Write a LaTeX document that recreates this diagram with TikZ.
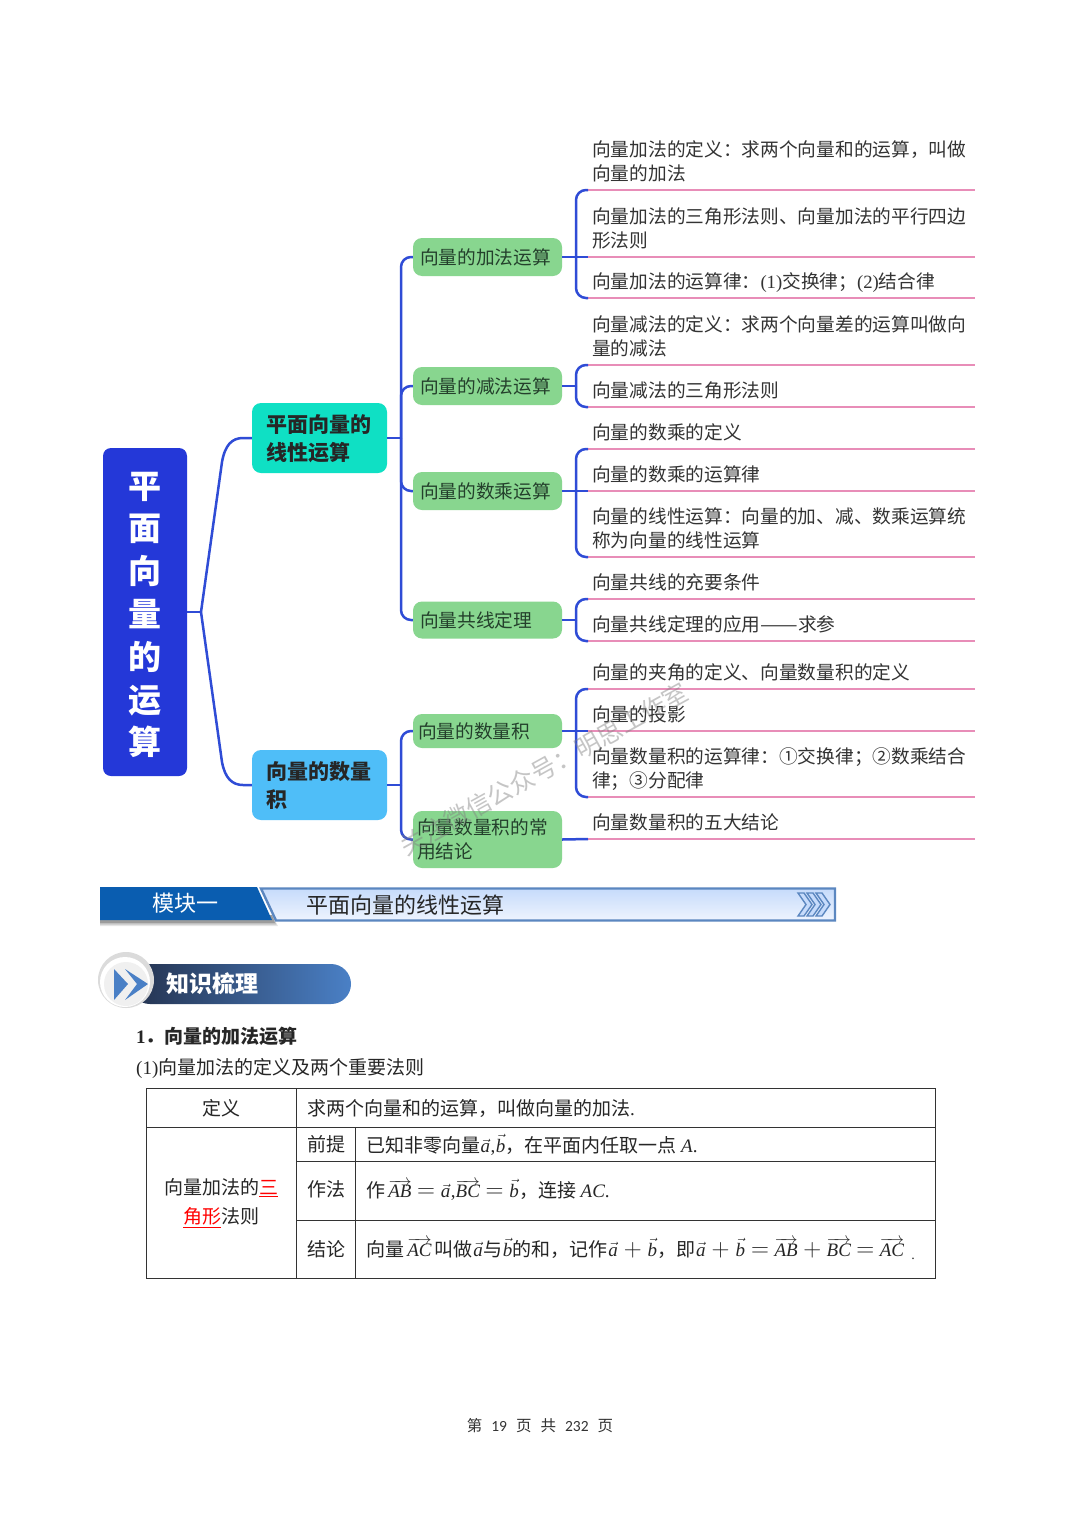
\documentclass[tikz,border=0pt]{standalone}
\usepackage[no-math]{fontspec}
\setmainfont{Noto Sans CJK SC}
\newfontfamily\ser{Liberation Serif}
\newfontfamily\calfnt{Carlito}
\usetikzlibrary{calc}
\definecolor{rootblue}{HTML}{2438D8}
\definecolor{linkblue}{HTML}{2F4CD6}
\definecolor{teal1}{HTML}{0FE0C4}
\definecolor{sky1}{HTML}{4FBEF8}
\definecolor{green1}{HTML}{88D68F}
\definecolor{pink1}{HTML}{E88DB8}
\definecolor{ink}{HTML}{333333}
\definecolor{greenink}{HTML}{24402C}
\definecolor{bandblue}{HTML}{0A5DB0}
\definecolor{bandedge}{HTML}{5B87C0}
\definecolor{bandtop}{HTML}{C6DBFB}
\definecolor{bandlow}{HTML}{EEF4FE}
\definecolor{pilla}{HTML}{24324E}
\definecolor{pillb}{HTML}{4A80C6}
\newcommand{\vv}[1]{$\overrightarrow{\mbox{\ser\itshape #1}}$}
\newcommand{\sv}[1]{\hspace{.5pt}$\vec{\mbox{\ser\itshape #1}}$\hspace{.5pt}}
\newcommand{\itx}[1]{{\ser\itshape #1}}
\newcommand{\opr}[1]{\hspace{5.5pt}{\fontsize{23}{24}\selectfont$#1$}\hspace{5.5pt}}
\tikzset{
  rootbox/.style={draw=none,fill=rootblue,rounded corners=8pt,minimum width=84pt,minimum height=328pt},
  roottext/.style={text=white,align=center,inner sep=0pt,font=\bfseries\fontsize{33}{42.8}\selectfont},
  lonebox/.style={draw=none,rounded corners=9pt,minimum width=135pt,minimum height=70pt},
  lonetext/.style={text width=107pt,inner sep=0pt,align=left,text=black!85,font=\bfseries\fontsize{21}{28}\selectfont},
  greenbox/.style={draw=none,fill=green1,rounded corners=9pt,text width=135pt,inner xsep=7pt,inner ysep=0pt,align=left,text=greenink,font=\fontsize{18.7}{24}\selectfont},
  leafnode/.style={anchor=south west,text width=379pt,inner xsep=4pt,inner ysep=2.2pt,align=left,text=ink,font=\fontsize{18.7}{24}\selectfont,execute at end node=\strut},
  conn/.style={draw=linkblue,line width=2.5pt},
  pinkline/.style={draw=pink1,line width=2.4pt},
  tline/.style={draw=black!80,line width=1pt},
  tcell/.style={inner sep=0pt,text=black!85,font=\fontsize{19}{24}\selectfont},
  tleft/.style={tcell,anchor=west},
}
\begin{document}
\begin{tikzpicture}[x=1pt,y=-1pt]
\useasboundingbox (0,0) rectangle (1080,1528);
\fill[white] (0,0) rectangle (1080,1528);

% --- mind map ---
\node[rootbox] (root) at (145,612) {};
\node[roottext] (roott) at (145,615) {平\\面\\向\\量\\的\\运\\算};
\node[lonebox,fill=teal1] (plane) at (319.5,438) {};
\node[lonetext] (planet) at (319.5,439) {平面向量的\\线性运算};
\node[lonebox,fill=sky1] (dot) at (319.5,785) {};
\node[lonetext] (dott) at (319.5,786) {向量的数量\\积};
\node[greenbox,minimum height=38pt] (add) at (487.5,257) {向量的加法运算};
\node[greenbox,minimum height=38pt] (sub) at (487.5,386) {向量的减法运算};
\node[greenbox,minimum height=38pt] (mul) at (487.5,491) {向量的数乘运算};
\node[greenbox,minimum height=37pt] (col) at (487.5,620) {向量共线定理};
\node[greenbox,minimum height=34pt,inner xsep=5pt,text width=139pt] (dp) at (487.5,731) {向量的数量积};
\node[greenbox,minimum height=57pt,inner xsep=4pt,text width=141pt] (con) at (487.5,839.5) {向量数量积的常\\用结论};

\node[leafnode] (a1) at (588,190) {向量加法的定义：求两个向量和的运算，叫做\\向量的加法};
\node[leafnode] (a2) at (588,257) {向量加法的三角形法则、向量加法的平行四边\\形法则};
\node[leafnode] (a3) at (588,298) {向量加法的运算律：{\ser (1)}交换律；{\ser (2)}结合律};
\node[leafnode] (s1) at (588,365) {向量减法的定义：求两个向量差的运算叫做向\\量的减法};
\node[leafnode] (s2) at (588,407) {向量减法的三角形法则};
\node[leafnode] (m1) at (588,449) {向量的数乘的定义};
\node[leafnode] (m2) at (588,491) {向量的数乘的运算律};
\node[leafnode] (m3) at (588,557) {向量的线性运算：向量的加、减、数乘运算统\\称为向量的线性运算};
\node[leafnode] (c1) at (588,599) {向量共线的充要条件};
\node[leafnode] (c2) at (588,641) {向量共线定理的应用\scalebox{1.2}[1]{——}求参};
\node[leafnode] (d1) at (588,689) {向量的夹角的定义、向量数量积的定义};
\node[leafnode] (d2) at (588,731) {向量的投影};
\node[leafnode] (d3) at (588,797) {向量数量积的运算律：①交换律；②数乘结合\\律；③分配律};
\node[leafnode] (e1) at (588,839) {向量数量积的五大结论};

\foreach \n in {a1,a2,a3,s1,s2,m1,m2,m3,c1,c2,d1,d2,d3,e1}
  \draw[pinkline] (\n.south west) -- (\n.south east);

\coordinate (j0) at (201,612);
\coordinate (j1) at (401,438);
\coordinate (j2) at (401,785);
\coordinate (ja) at (576,257);
\coordinate (js) at (576,386);
\coordinate (jm) at (576,491);
\coordinate (jc) at (576,620);
\coordinate (jd) at (576,731);

\draw[conn] (root.east) -- (j0);
\draw[conn] (j0) -- (222,462) .. controls (225,445) and (232,438) .. (243,438) -- (plane.west);
\draw[conn] (j0) -- (222,762) .. controls (225,778) and (232,785) .. (243,785) -- (dot.west);

\draw[conn] (plane.east) -- (j1);
\draw[conn] (dot.east) -- (j2);
\foreach \t in {add,sub,mul,col} \draw[conn,rounded corners=10pt] (j1) |- (\t.west);
\foreach \t in {dp,con} \draw[conn,rounded corners=10pt] (j2) |- (\t.west);

\draw[conn] (add.east) -- (ja); \draw[conn] (ja) -- (a2.south west);
\draw[conn,rounded corners=10pt] (ja) |- (a1.south west);
\draw[conn,rounded corners=10pt] (ja) |- (a3.south west);
\draw[conn] (sub.east) -- (js);
\draw[conn,rounded corners=10pt] (js) |- (s1.south west);
\draw[conn,rounded corners=10pt] (js) |- (s2.south west);
\draw[conn] (mul.east) -- (jm); \draw[conn] (jm) -- (m2.south west);
\draw[conn,rounded corners=10pt] (jm) |- (m1.south west);
\draw[conn,rounded corners=10pt] (jm) |- (m3.south west);
\draw[conn] (col.east) -- (jc);
\draw[conn,rounded corners=10pt] (jc) |- (c1.south west);
\draw[conn,rounded corners=10pt] (jc) |- (c2.south west);
\draw[conn] (dp.east) -- (jd); \draw[conn] (jd) -- (d2.south west);
\draw[conn,rounded corners=10pt] (jd) |- (d1.south west);
\draw[conn,rounded corners=10pt] (jd) |- (d3.south west);
\draw[conn] (con.east) -- (e1.south west);

% watermark
\node[rotate=29,text=gray,opacity=.45,inner sep=0pt,font=\fontsize{25}{25}\selectfont] (wm) at (544,769) {关注微信公众号：明思工作室};

% --- module banner ---
\foreach \o/\a in {6/.10,4.5/.14,3/.2}
  \fill[black,opacity=\a] (100,920) -- (100,920+\o) -- (272+\o,920+\o) -- (272,915) -- cycle;
\fill[bandblue] (100,887) -- (257,887) -- (272,920) -- (100,920) -- cycle;
\node[text=white,inner sep=0pt,font=\fontsize{22}{22}\selectfont] (mod) at (185,903) {模块一};
\path[draw=bandedge,line width=2.4pt,top color=bandtop,bottom color=bandlow] (261,888.5) -- (835,888.5) -- (835,920.5) -- (276,920.5) -- cycle;
\node[anchor=west,text=black!85,inner sep=0pt,font=\fontsize{22}{22}\selectfont] (modt) at (306,905) {平面向量的线性运算};
\foreach \x in {816,807,798}
  \draw[draw=bandedge,line width=1.4pt,fill=bandtop] (\x,893) -- (\x+6,893) -- (\x+14,904.5) -- (\x+6,916) -- (\x,916) -- (\x+8,904.5) -- cycle;

% --- knowledge title ---
\shade[left color=pilla,right color=pillb,rounded corners=20pt] (130,964) rectangle (351,1004);
\fill[black!14] (126,980) circle (28pt);
\fill[white] (125,982) circle (25pt);
\fill[black!6] (126,984) circle (22pt);
\fill[pillb] (114,969) -- (128,984) -- (114,1000) -- cycle;
\fill[pillb] (125,969) -- (148,984) -- (125,1000) -- (137,984) -- cycle;
\node[text=white,inner sep=0pt,font=\bfseries\fontsize{23}{23}\selectfont] (kt) at (212,984) {知识梳理};

% --- heading lines ---
\node[anchor=west,inner sep=0pt,text=black!85,font=\bfseries\fontsize{19}{24}\selectfont] (h1) at (136,1036) {{\ser 1}．向量的加法运算};
\node[anchor=west,inner sep=0pt,text=black!85,font=\fontsize{19}{24}\selectfont] (h2) at (136,1068) {{\ser (1)}向量加法的定义及两个重要法则};

% --- table ---
\draw[tline] (146,1088) rectangle (935,1278);
\draw[tline] (146,1127) -- (935,1127);
\draw[tline] (296,1161) -- (935,1161);
\draw[tline] (296,1220) -- (935,1220);
\draw[tline] (296,1088) -- (296,1278);
\draw[tline] (355,1127) -- (355,1278);
\node[tcell] (t1) at (221,1108) {定义};
\node[tleft] (t2) at (307,1108) {求两个向量和的运算，叫做向量的加法{\ser .}};
\node[tcell,align=center,font=\fontsize{19}{29}\selectfont] (t3) at (221,1203) {向量加法的\textcolor{red}{\underline{三}}\\\textcolor{red}{\underline{角形}}法则};
\node[tcell] (t4) at (326,1144) {前提};
\node[tleft] (t5) at (366,1145) {已知非零向量\sv{a}{\ser ,}\sv{b}，在平面内任取一点 \itx{A}{\ser .}};
\node[tcell] (t6) at (326,1189) {作法};
\node[tleft] (t7) at (366,1190) {作\,\vv{AB}\opr{=}\sv{a}{\ser ,}\vv{BC}\opr{=}\sv{b}，连接 \itx{AC}{\ser .}};
\node[tcell] (t8) at (326,1249) {结论};
\node[tleft] (t9) at (366,1248) {向量\,\vv{AC}\,叫做\sv{a}与\sv{b}的和，记作\sv{a}\opr{+}\sv{b}，即\sv{a}\opr{+}\sv{b}\opr{=}\vv{AB}\opr{+}\vv{BC}\opr{=}\vv{AC}};
\node[tcell,font=\ser\fontsize{14}{14}\selectfont] (t10) at (913,1259) {.};

% --- footer ---
\node[inner sep=0pt,text=black!80,font=\fontsize{15.5}{15.5}\selectfont] (pg) at (540,1426) {第\hspace{9pt}{\calfnt 19}\hspace{9pt}页\hspace{9pt}共\hspace{9pt}{\calfnt 232}\hspace{9pt}页};
\end{tikzpicture}
\end{document}
